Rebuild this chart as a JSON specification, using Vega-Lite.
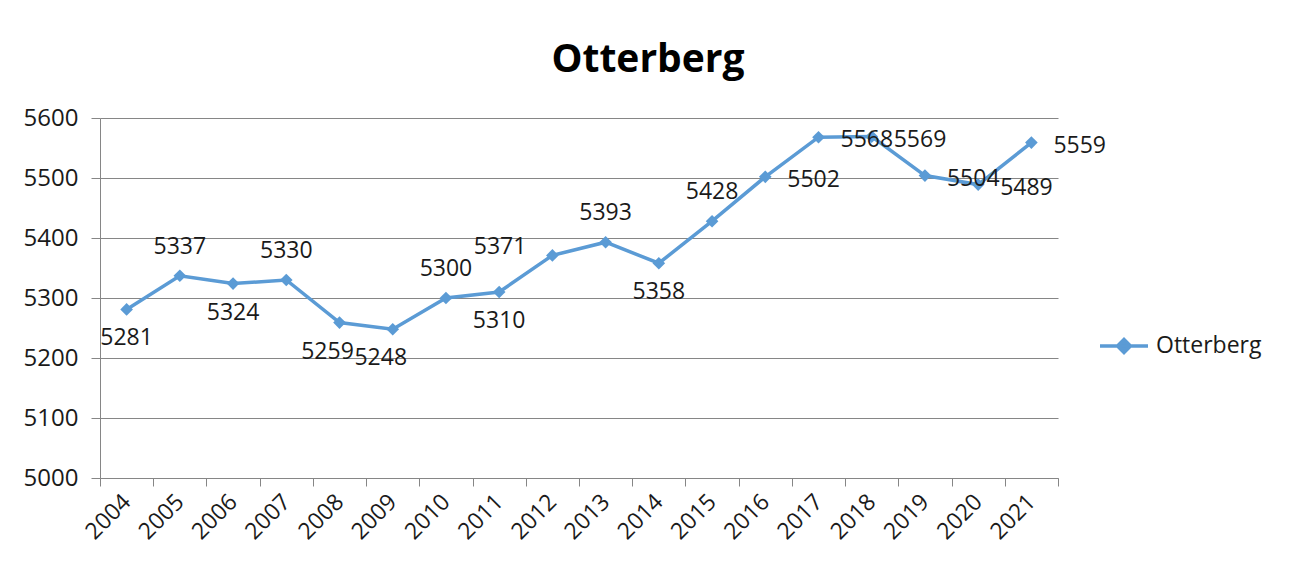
{
  "$schema": "https://vega.github.io/schema/vega-lite/v6.json",
  "width": 958,
  "height": 360,
  "autosize": {"type": "none"},
  "padding": {"left": 100, "top": 118, "right": 232, "bottom": 90},
  "background": "white",
  "title": {
    "text": "Otterberg",
    "font": "Open Sans",
    "fontSize": 39,
    "fontWeight": "bold",
    "color": "#000000",
    "anchor": "middle",
    "dx": 69,
    "offset": 26
  },
  "config": {
    "view": {"stroke": null},
    "font": "Open Sans",
    "axis": {
      "labelFont": "Open Sans",
      "labelFontSize": 23,
      "labelColor": "#1a1a1a",
      "domainColor": "#868686",
      "tickColor": "#868686",
      "gridColor": "#868686",
      "domainWidth": 1,
      "tickWidth": 1,
      "title": null
    },
    "legend": {
      "labelFont": "Open Sans",
      "labelFontSize": 23,
      "labelColor": "#1a1a1a",
      "padding": 0
    }
  },
  "data": {
    "values": [
      {"year": "2004", "value": 5281, "series": "Otterberg"},
      {"year": "2005", "value": 5337, "series": "Otterberg"},
      {"year": "2006", "value": 5324, "series": "Otterberg"},
      {"year": "2007", "value": 5330, "series": "Otterberg"},
      {"year": "2008", "value": 5259, "series": "Otterberg"},
      {"year": "2009", "value": 5248, "series": "Otterberg"},
      {"year": "2010", "value": 5300, "series": "Otterberg"},
      {"year": "2011", "value": 5310, "series": "Otterberg"},
      {"year": "2012", "value": 5371, "series": "Otterberg"},
      {"year": "2013", "value": 5393, "series": "Otterberg"},
      {"year": "2014", "value": 5358, "series": "Otterberg"},
      {"year": "2015", "value": 5428, "series": "Otterberg"},
      {"year": "2016", "value": 5502, "series": "Otterberg"},
      {"year": "2017", "value": 5568, "series": "Otterberg"},
      {"year": "2018", "value": 5569, "series": "Otterberg"},
      {"year": "2019", "value": 5504, "series": "Otterberg"},
      {"year": "2020", "value": 5489, "series": "Otterberg"},
      {"year": "2021", "value": 5559, "series": "Otterberg"}
    ]
  },
  "encoding": {
    "x": {
      "field": "year",
      "type": "ordinal",
      "bandPosition": 0.5,
      "scale": {"type": "band", "paddingInner": 0, "paddingOuter": 0},
      "axis": {
        "labelAngle": -45,
        "labelAlign": "right",
        "labelBaseline": "middle",
        "labelPadding": 12,
        "tickBand": "extent",
        "tickSize": 8,
        "grid": false
      }
    },
    "y": {
      "field": "value",
      "type": "quantitative",
      "scale": {"domain": [5000, 5600], "nice": false, "zero": false},
      "axis": {
        "values": [5000, 5100, 5200, 5300, 5400, 5500, 5600],
        "format": "d",
        "grid": true,
        "tickSize": 9,
        "labelPadding": 13,
        "labelFontSize": 24
      }
    }
  },
  "layer": [
    {
      "mark": {"type": "line", "strokeWidth": 3.5},
      "encoding": {
        "color": {
          "field": "series",
          "type": "nominal",
          "scale": {"range": ["#5B9BD5"]},
          "legend": {
            "title": null,
            "orient": "none",
            "legendX": 998,
            "legendY": 202,
            "symbolType": "M-1,0H1M0,-0.27L0.27,0L0,0.27L-0.27,0Z",
            "symbolSize": 2304,
            "symbolStrokeWidth": 3.5,
            "symbolFillColor": "#5B9BD5",
            "symbolStrokeColor": "#5B9BD5",
            "labelOffset": 6
          }
        }
      }
    },
    {
      "mark": {"type": "point", "shape": "diamond", "filled": true, "size": 160, "color": "#5B9BD5", "opacity": 1}
    },
    {
      "transform": [{"filter": {"field": "year", "oneOf": ["2005", "2007", "2010", "2013", "2015"]}}],
      "mark": {"type": "text", "fontSize": 23, "font": "Open Sans", "color": "#1a1a1a", "baseline": "middle", "align": "center", "dy": -29},
      "encoding": {"text": {"field": "value", "type": "quantitative", "format": "d"}}
    },
    {
      "transform": [{"filter": {"field": "year", "oneOf": ["2004", "2006", "2011", "2014"]}}],
      "mark": {"type": "text", "fontSize": 23, "font": "Open Sans", "color": "#1a1a1a", "baseline": "middle", "align": "center", "dy": 29},
      "encoding": {"text": {"field": "value", "type": "quantitative", "format": "d"}}
    },
    {
      "transform": [{"filter": {"field": "year", "oneOf": ["2008", "2009"]}}],
      "mark": {"type": "text", "fontSize": 23, "font": "Open Sans", "color": "#1a1a1a", "baseline": "middle", "align": "center", "dy": 29, "dx": -12},
      "encoding": {"text": {"field": "value", "type": "quantitative", "format": "d"}}
    },
    {
      "transform": [{"filter": {"field": "year", "equal": "2012"}}],
      "mark": {"type": "text", "fontSize": 23, "font": "Open Sans", "color": "#1a1a1a", "baseline": "middle", "align": "right", "dx": -26, "dy": -8},
      "encoding": {"text": {"field": "value", "type": "quantitative", "format": "d"}}
    },
    {
      "transform": [{"filter": {"field": "year", "oneOf": ["2016", "2017", "2018", "2019", "2020", "2021"]}}],
      "mark": {"type": "text", "fontSize": 23, "font": "Open Sans", "color": "#1a1a1a", "baseline": "middle", "align": "left", "dx": 22, "dy": 3},
      "encoding": {"text": {"field": "value", "type": "quantitative", "format": "d"}}
    }
  ]
}
